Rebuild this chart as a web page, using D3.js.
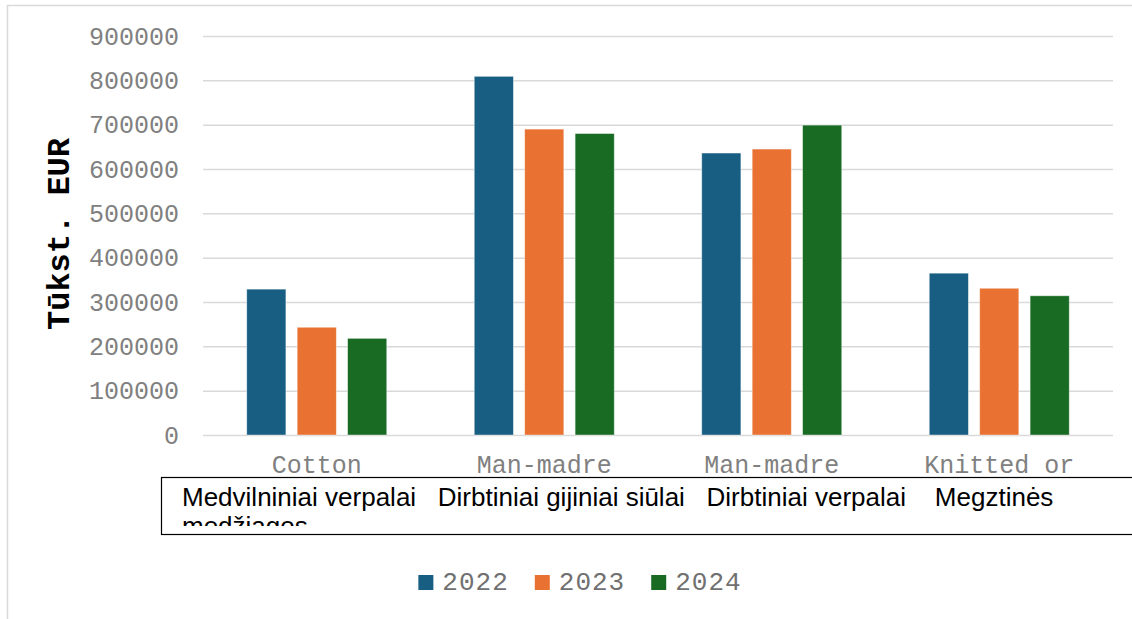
<!DOCTYPE html>
<html>
<head>
<meta charset="utf-8">
<script src="https://cdn.jsdelivr.net/npm/d3@7"></script>
<style>
  body { margin: 0; background: #fff; }
  svg { display: block; }
</style>
</head>
<body>
<script>
const categories = ["Cotton", "Man-madre", "Man-madre", "Knitted or"];
const years = ["2022", "2023", "2024"];
const values2022 = [329000, 809000, 636000, 365000];
const values2023 = [243000, 690000, 645000, 331000];
const values2024 = [218000, 680000, 699000, 314000];
const yTicks = [0, 100000, 200000, 300000, 400000, 500000, 600000, 700000, 800000, 900000];
const boxLines = ["Medvilniniai verpalai   Dirbtiniai gijiniai siūlai   Dirbtiniai verpalai    Megztinės", "medžiagos"];
const yTitle = "Tūkst. EUR";
const colors = ["#175e82", "#e97132", "#196b24"];

const width = 1132, height = 619;
const plotLeft = 203, plotRight = 1113, plotTop = 36, plotBottom = 435;
const mono = "'Liberation Mono', 'Courier New', monospace";
const sans = "'Liberation Sans', Arial, sans-serif";

const series = [values2022, values2023, values2024];

const svg = d3.select("body").append("svg")
    .attr("width", width)
    .attr("height", height);

// outer chart frame
svg.append("rect")
    .attr("x", 7.5).attr("y", 5.5)
    .attr("width", width + 10).attr("height", height + 10)
    .attr("fill", "none")
    .attr("stroke", "#d9d9d9")
    .attr("stroke-width", 1.5);

const x = d3.scaleBand().domain(d3.range(categories.length)).range([plotLeft, plotRight]);
const xInner = d3.scaleBand().domain(years)
    .range([43.75, x.bandwidth() - 43.75])
    .paddingInner(0.224);
const y = d3.scaleLinear().domain([0, 900000]).range([plotBottom, plotTop]);

const yAxis = d3.axisLeft(y)
    .tickValues(yTicks)
    .tickSize(-(plotRight - plotLeft))
    .tickPadding(24)
    .tickFormat(d3.format("d"));

const yg = svg.append("g")
    .attr("transform", `translate(${plotLeft},0)`)
    .call(yAxis);
yg.select(".domain").remove();
yg.selectAll("line").attr("stroke", "#d9d9d9").attr("stroke-width", 1.5);
yg.selectAll("text")
    .attr("fill", "#808080")
    .style("font-family", mono)
    .style("font-size", "25px");

// bars
years.forEach((yr, s) => {
    svg.append("g").selectAll("rect")
        .data(series[s])
        .enter()
        .append("rect")
        .attr("x", (d, i) => x(i) + xInner(yr))
        .attr("y", d => y(d))
        .attr("width", xInner.bandwidth())
        .attr("height", d => plotBottom - y(d))
        .attr("fill", colors[s])
        .attr("stroke", "#ffffff")
        .attr("stroke-opacity", 0.5)
        .attr("stroke-width", 0.8);
});

// category labels
svg.append("g").selectAll("text")
    .data(categories)
    .enter()
    .append("text")
    .attr("x", (d, i) => x(i) + x.bandwidth() / 2)
    .attr("y", 473)
    .attr("text-anchor", "middle")
    .attr("fill", "#808080")
    .style("font-family", mono)
    .style("font-size", "25px")
    .text(d => d);

// text box below axis, second line cut off
svg.append("clipPath").attr("id", "boxclip")
    .append("rect")
    .attr("x", 161).attr("y", 478).attr("width", width).attr("height", 48);

svg.append("rect")
    .attr("x", 161.5).attr("y", 477.5)
    .attr("width", width).attr("height", 57)
    .attr("fill", "none")
    .attr("stroke", "#000")
    .attr("stroke-width", 1.2);

svg.append("g").attr("clip-path", "url(#boxclip)")
    .selectAll("text")
    .data(boxLines)
    .enter()
    .append("text")
    .attr("x", 182)
    .attr("y", (d, i) => 506 + i * 29)
    .attr("fill", "#000")
    .style("font-family", sans)
    .style("font-size", "26px")
    .style("white-space", "pre")
    .text(d => d);

// y axis title
svg.append("text")
    .attr("transform", "translate(69,234) rotate(-90)")
    .attr("text-anchor", "middle")
    .attr("fill", "#000")
    .style("font-family", mono)
    .style("font-weight", "bold")
    .style("font-size", "32px")
    .text(yTitle);

// legend
const legend = svg.append("g");
let lx = 0;
years.forEach((yr, s) => {
    const item = legend.append("g").attr("transform", `translate(${lx},0)`);
    item.append("rect")
        .attr("x", 0).attr("y", -14)
        .attr("width", 15).attr("height", 15)
        .attr("fill", colors[s]);
    const t = item.append("text")
        .attr("x", 24).attr("y", 1)
        .attr("fill", "#707070")
        .style("font-family", mono)
        .style("font-size", "26px")
        .style("letter-spacing", "1px")
        .text(yr);
    lx += 24 + t.node().getComputedTextLength() + 26;
});
const lw = lx - 26;
legend.attr("transform", `translate(${580 - lw / 2},589)`);
</script>
</body>
</html>
